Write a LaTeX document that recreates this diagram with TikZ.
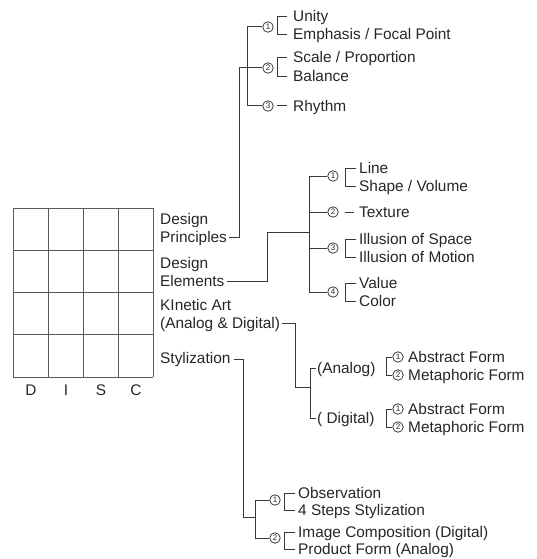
\documentclass[tikz,border=0pt]{standalone}
\usepackage{fontspec}
\setmainfont{Liberation Sans}
\usetikzlibrary{calc}
\newcommand{\brk}[4]{\draw[conn] ($(#1.base west)+(-#3,-5)$) -- ++(-#4,0) |- ($(#2.base west)+(-#3,-5)$);}
\begin{document}
\begin{tikzpicture}[x=1pt,y=-1pt,
  txt/.style={anchor=base west, inner sep=0pt, font=\fontsize{15.4}{18}\selectfont, text=black!85},
  num/.style={circle, draw=black!80, line width=0.75pt, minimum size=10.5pt, inner sep=0pt, font=\fontsize{8}{8}\selectfont, text=black!85},
  conn/.style={draw=black!78, line width=1pt},
  gridl/.style={draw=black!65, line width=0.7pt}]
\useasboundingbox (0,0) rectangle (537,559);

% grid
\foreach \x in {13,48,83,118,153} \draw[gridl] (\x,208) -- (\x,377);
\foreach \y in {208,250.25,292.5,334.75,377} \draw[gridl] (13,\y) -- (153,\y);
\node[txt,anchor=base] (lD) at (31,395) {D};
\node[txt,anchor=base] (lI) at (66,395) {I};
\node[txt,anchor=base] (lS) at (101,395) {S};
\node[txt,anchor=base] (lC) at (136,395) {C};

% left labels
\node[txt] (dp1) at (160,224) {Design};
\node[txt] (dp2) at (160,242) {Principles};
\node[txt] (de1) at (160,268) {Design};
\node[txt] (de2) at (160,286) {Elements};
\node[txt] (ka1) at (160,310) {KInetic Art};
\node[txt] (ka2) at (160,328) {(Analog \& Digital)};
\node[txt] (st) at (160,363) {Stylization};

% ---- Design Principles
\node[num] (p1) at (268,27) {1};
\node[num] (p2) at (268,68) {2};
\node[num] (p3) at (268,106) {3};
\node[txt] (p1a) at (293,22) {Unity};
\node[txt] (p1b) at (293,40) {Emphasis / Focal Point};
\node[txt] (p2a) at (293,63) {Scale / Proportion};
\node[txt] (p2b) at (293,82) {Balance};
\node[txt] (p3a) at (293,111) {Rhythm};
\brk{p1a}{p1b}{6}{10}
\brk{p2a}{p2b}{6}{10}
\draw[conn] ($(p3.east)+(3,0)$) -- ($(p3a.base west)+(-6,-5)$);
\draw[conn] (p1.west) -- ++(-15,0) |- (p3.west);
\draw[conn] ($(dp2.base east)+(2,-5)$) -| ($(p2.west)+(-23,0)$) -- (p2.west);

% ---- Design Elements
\node[num] (e1) at (333,176) {1};
\node[num] (e2) at (333,212) {2};
\node[num] (e3) at (333,248) {3};
\node[num] (e4) at (333,292) {4};
\node[txt] (e1a) at (359,173) {Line};
\node[txt] (e1b) at (359,191) {Shape / Volume};
\node[txt] (e2a) at (359,217) {Texture};
\node[txt] (e3a) at (359,244) {Illusion of Space};
\node[txt] (e3b) at (359,262) {Illusion of Motion};
\node[txt] (e4a) at (359,288) {Value};
\node[txt] (e4b) at (359,306) {Color};
\brk{e1a}{e1b}{3}{11}
\brk{e3a}{e3b}{3}{11}
\brk{e4a}{e4b}{3}{11}
\draw[conn] ($(e2.east)+(6,0)$) -- ($(e2a.base west)+(-5,-5)$);
\draw[conn] (e1.west) -- ++(-18,0) |- (e4.west);
\draw[conn] (e2.west) -- ++(-18,0);
\draw[conn] (e3.west) -- ++(-18,0);
\coordinate (ej) at (310,232);
\draw[conn] ($(de2.base east)+(2,-5)$) -| ($(ej)+(-43,0)$) -- (ej);

% ---- Kinetic Art
\node[txt] (ka) at (317,373) {(Analog)};
\node[txt] (kd) at (317,423) {( Digital)};
\draw[conn] ($(ka.base west)+(-1,-5)$) -- ++(-6,0) |- ($(kd.base west)+(-1,-5)$);
\coordinate (kj) at (310,387);
\draw[conn] ($(ka2.base east)+(2,-5)$) -| ($(kj)+(-15,0)$) -- (kj);
\node[num] (kac1) at (398,357) {1};
\node[num] (kac2) at (398,375) {2};
\node[txt] (kat1) at (408,362) {Abstract Form};
\node[txt] (kat2) at (408,380) {Metaphoric Form};
\draw[conn] (kac1.west) -- ++(-6,0) |- (kac2.west);
\node[num] (kdc1) at (398,409) {1};
\node[num] (kdc2) at (398,427) {2};
\node[txt] (kdt1) at (408,414) {Abstract Form};
\node[txt] (kdt2) at (408,432) {Metaphoric Form};
\draw[conn] (kdc1.west) -- ++(-6,0) |- (kdc2.west);

% ---- Stylization
\node[num] (s1) at (275,500) {1};
\node[num] (s2) at (275,538) {2};
\node[txt] (s1a) at (298,498) {Observation};
\node[txt] (s1b) at (298,515) {4 Steps Stylization};
\node[txt] (s2a) at (298,537) {Image Composition (Digital)};
\node[txt] (s2b) at (298,554) {Product Form (Analog)};
\brk{s1a}{s1b}{3}{11}
\brk{s2a}{s2b}{3}{11}
\draw[conn] (s1.west) -- ++(-14,0) |- (s2.west);
\coordinate (sj) at (255,517);
\draw[conn] ($(st.base east)+(3,-4)$) -| ($(sj)+(-12,0)$) -- (sj);
\end{tikzpicture}
\end{document}
